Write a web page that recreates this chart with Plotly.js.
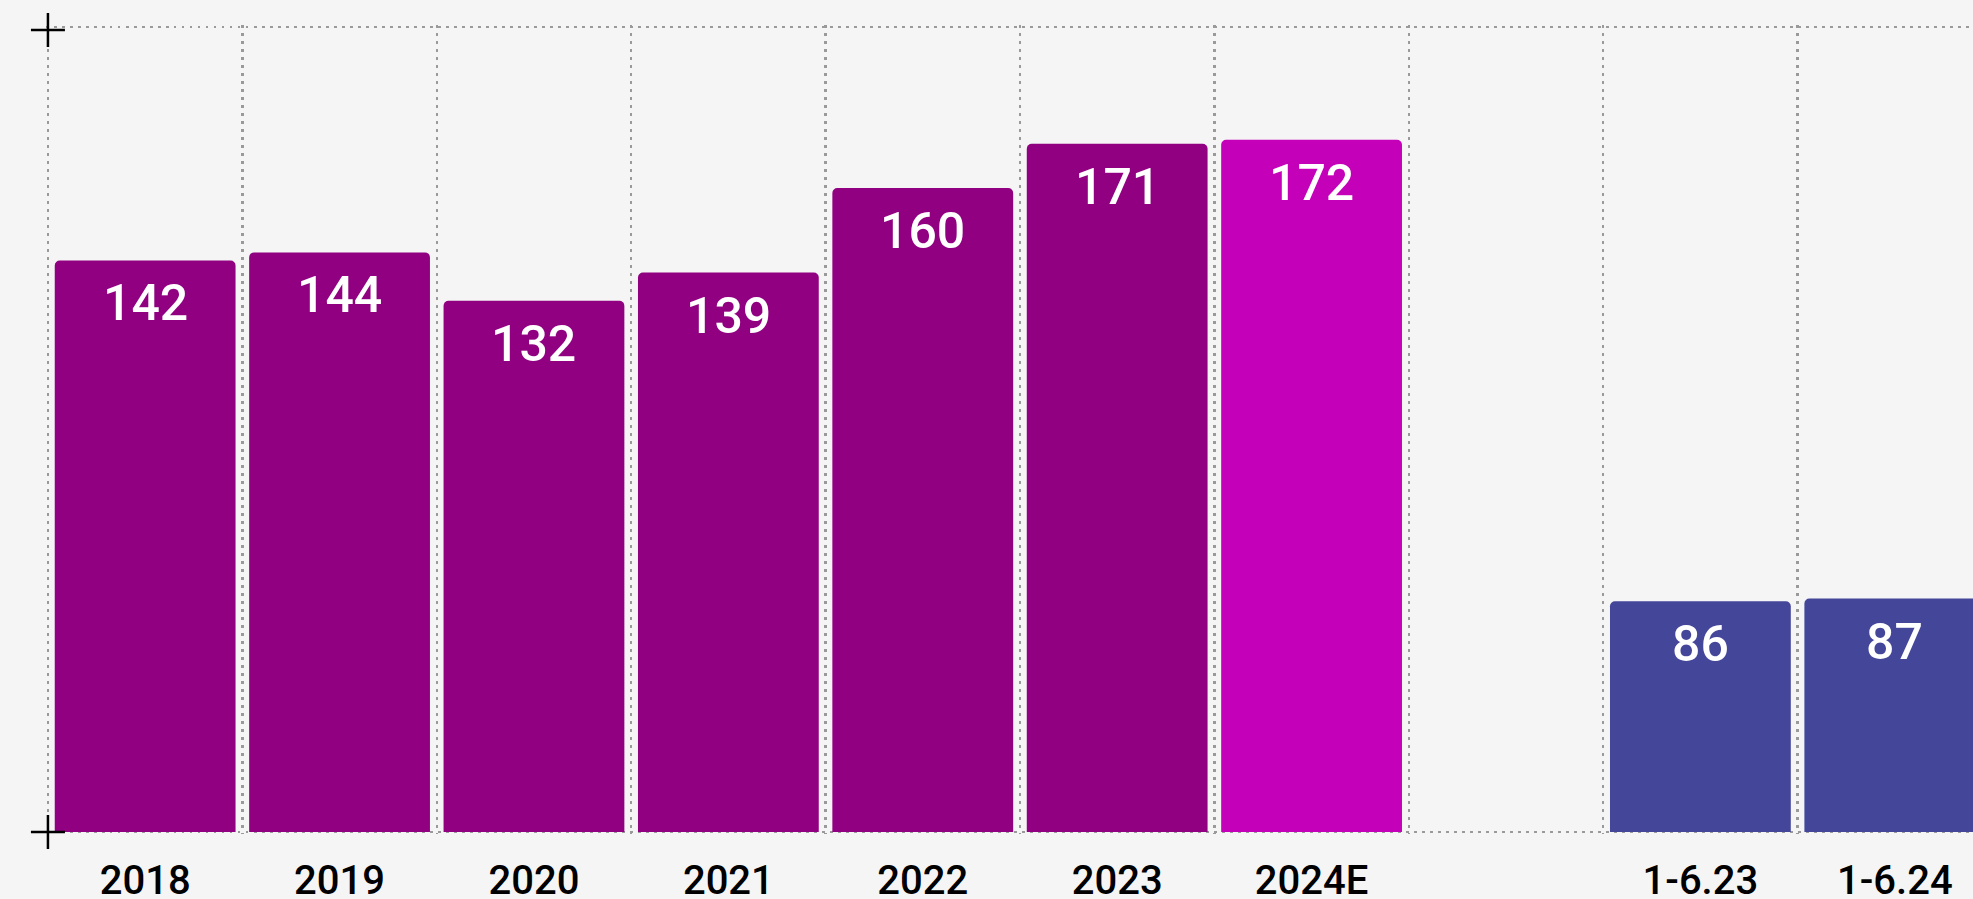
<!DOCTYPE html>
<html>
<head>
<meta charset="utf-8">
<script src="https://cdn.plot.ly/plotly-3.0.1.min.js"></script>
<style>
html,body{margin:0;padding:0;background:#f5f5f5;overflow:hidden;}
#chart{width:2002px;height:899px;}
</style>
</head>
<body>
<div id="chart"></div>
<script>
// ---- data ----
const annualCats = ['2018', '2019', '2020', '2021', '2022', '2023', '2024E'];
const annualValues = [142, 144, 132, 139, 160, 171, 172];
const annualColors = ['#900080', '#900080', '#900080', '#900080', '#900080', '#900080', '#c400b8'];
const gapCat = ' ';
const halfCats = ['1-6.23', '1-6.24'];
const halfValues = [86, 87];
const halfColor = '#444699';
const allCats = annualCats.concat([gapCat], halfCats);

const FONT = 'Roboto, "Noto Sans", sans-serif';
const GRID = {color: '#9a9a9a', dash: '2.5px,5.5px', width: 2.5};

const xRange = [-0.51, allCats.length - 0.5];
const yRange = [-0.5, 200.5];
const yMax = 200;
const y2Range = [-0.75, 300.75];

const traces = [
  {
    type: 'bar',
    x: annualCats.concat([gapCat]),
    y: annualValues.concat([null]),
    yaxis: 'y',
    marker: {color: annualColors.concat(['rgba(0,0,0,0)']), cornerradius: 5, line: {width: 0}},
    hoverinfo: 'x+y',
    showlegend: false
  },
  {
    type: 'bar',
    x: halfCats,
    y: halfValues,
    yaxis: 'y2',
    marker: {color: halfColor, cornerradius: 5, line: {width: 0}},
    hoverinfo: 'x+y',
    showlegend: false
  }
];

const labelFont = {family: FONT, size: 50, color: '#ffffff', weight: 500};
const annotations = [];
annualCats.forEach((c, i) => annotations.push({
  x: allCats.indexOf(c), y: annualValues[i], xref: 'x', yref: 'y', text: String(annualValues[i]),
  showarrow: false, yanchor: 'top', yshift: -12, font: labelFont
}));
halfCats.forEach((c, i) => annotations.push({
  x: allCats.indexOf(c), y: halfValues[i], xref: 'x', yref: 'y2', text: String(halfValues[i]),
  showarrow: false, yanchor: 'top', yshift: -12, font: labelFont
}));

// paper fractions of the plot's left edge / top and bottom grid lines
const pxLeft = (-0.5 - xRange[0]) / (xRange[1] - xRange[0]);
const pyTop = (yMax - yRange[0]) / (yRange[1] - yRange[0]);
const pyBottom = (0 - yRange[0]) / (yRange[1] - yRange[0]);

const crossLine = {color: '#000000', width: 2.5};
const cross = (py, dy) => [
  {type: 'line', xref: 'paper', yref: 'paper', xsizemode: 'pixel', ysizemode: 'pixel',
   xanchor: pxLeft, yanchor: py, x0: -17, x1: 17, y0: dy, y1: dy, line: crossLine},
  {type: 'line', xref: 'paper', yref: 'paper', xsizemode: 'pixel', ysizemode: 'pixel',
   xanchor: pxLeft, yanchor: py, x0: 0, x1: 0, y0: dy + 17, y1: dy - 17, line: crossLine}
];
const shapes = cross(pyTop, -3).concat(cross(pyBottom, 0));

const layout = {
  width: 2002,
  height: 899,
  margin: {l: 46, r: 10, t: 25, b: 65},
  paper_bgcolor: '#f5f5f5',
  plot_bgcolor: '#f5f5f5',
  barmode: 'overlay',
  bargap: 0.07,
  showlegend: false,
  xaxis: {
    type: 'category',
    categoryorder: 'array',
    categoryarray: allCats,
    range: xRange,
    tickson: 'boundaries',
    ticks: '',
    showgrid: true,
    gridcolor: GRID.color,
    griddash: GRID.dash,
    gridwidth: GRID.width,
    showline: false,
    zeroline: false,
    tickfont: {family: FONT, size: 40, color: '#000000', weight: 500},
    ticklabelstandoff: 19,
    fixedrange: true
  },
  yaxis: {
    range: yRange,
    tick0: 0,
    dtick: yMax,
    showgrid: true,
    gridcolor: GRID.color,
    griddash: GRID.dash,
    gridwidth: GRID.width,
    zeroline: false,
    showticklabels: false,
    ticks: '',
    fixedrange: true
  },
  yaxis2: {
    range: y2Range,
    overlaying: 'y',
    side: 'right',
    showgrid: false,
    zeroline: false,
    showticklabels: false,
    ticks: '',
    fixedrange: true
  },
  annotations: annotations,
  shapes: shapes
};

Plotly.newPlot('chart', traces, layout, {displayModeBar: false, staticPlot: true});
</script>
</body>
</html>
